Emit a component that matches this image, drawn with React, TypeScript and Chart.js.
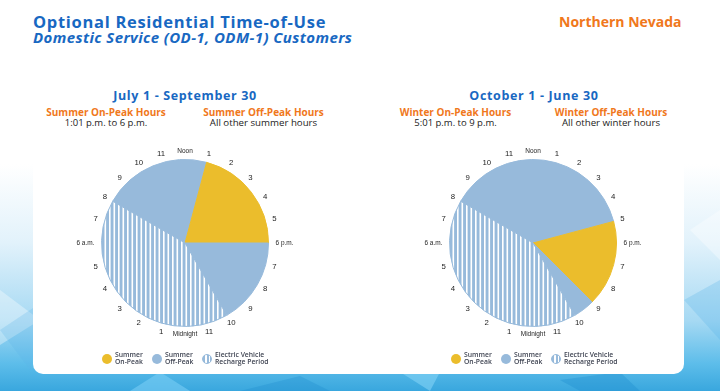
import React, { useEffect, useRef } from "react";
import { Chart, registerables } from "chart.js";

Chart.register(...registerables);

// ---- data ----
const HOUR_LABELS = ["Noon", "1", "2", "3", "4", "5", "6 p.m.", "7", "8", "9", "10", "11", "Midnight", "1", "2", "3", "4", "5", "6 a.m.", "7", "8", "9", "10", "11"];
const START_HOUR = 8; // first slice begins at 8 a.m.
const PERIOD_TYPES = ["off", "on", "off", "ev"];
const SUMMER_HOURS = [5, 5, 4, 10]; // 8a-1p off, 1p-6p on, 6p-10p off, 10p-8a EV
const WINTER_HOURS = [9, 4, 1, 10]; // 8a-5p off, 5p-9p on, 9p-10p off, 10p-8a EV
const LEGEND_LABELS = [["Summer", "On-Peak"], ["Summer", "Off-Peak"], ["Electric Vehicle", "Recharge Period"]];

const YELLOW = "#ebbd2c";
const BLUE = "#97badb";
const TITLE_BLUE = "#1868c2";
const ORANGE = "#f0781c";
const FONT = "'Open Sans', sans-serif";

function makePattern(): CanvasPattern | string {
  const c = document.createElement("canvas");
  c.width = 9;
  c.height = 10;
  const g = c.getContext("2d");
  if (!g) return BLUE;
  g.fillStyle = BLUE;
  g.fillRect(0, 0, 9, 10);
  g.fillStyle = "#ffffff";
  g.fillRect(0, 0, 1.6, 10);
  g.fillRect(4.5, 0, 1.6, 10);
  const p = g.createPattern(c, "repeat");
  return p || BLUE;
}

const clockLabels = {
  id: "clockLabels",
  afterDatasetsDraw(chart: any) {
    const arc = chart.getDatasetMeta(0).data[0];
    if (!arc) return;
    const { x, y, outerRadius } = arc.getProps(["x", "y", "outerRadius"], true);
    const ctx = chart.ctx;
    ctx.save();
    ctx.fillStyle = "#1e1e1e";
    HOUR_LABELS.forEach((lab, i) => {
      const ang = ((i * 15 - 90) * Math.PI) / 180;
      const word = lab.length > 2;
      ctx.font = word ? "6.5px 'Liberation Sans', Arial, sans-serif" : "7.8px 'Liberation Sans', Arial, sans-serif";
      ctx.textBaseline = "middle";
      let r = outerRadius + 9;
      ctx.textAlign = "center";
      if (lab === "6 p.m.") {
        ctx.textAlign = "left";
        r = outerRadius + 7;
      } else if (lab === "6 a.m.") {
        ctx.textAlign = "right";
        r = outerRadius + 7;
      } else if (word) {
        r = outerRadius + 8;
      }
      ctx.fillText(lab, x + r * Math.cos(ang), y + r * Math.sin(ang));
    });
    ctx.restore();
  },
};

function ClockPie({ hours, left, top }: { hours: number[]; left: number; top: number }) {
  const ref = useRef<HTMLCanvasElement | null>(null);
  useEffect(() => {
    if (!ref.current) return;
    const pattern = makePattern();
    const colors = PERIOD_TYPES.map((t) => (t === "on" ? YELLOW : t === "ev" ? pattern : BLUE));
    const borders = PERIOD_TYPES.map((t) => (t === "on" ? YELLOW : BLUE));
    const chart = new Chart(ref.current, {
      type: "pie",
      data: {
        labels: PERIOD_TYPES,
        datasets: [
          {
            data: hours,
            backgroundColor: colors as any,
            borderColor: borders,
            borderWidth: 1,
          },
        ],
      },
      options: {
        animation: false,
        responsive: false,
        rotation: (START_HOUR - 12) * 15,
        layout: { padding: { left: 46, right: 46, top: 31, bottom: 31 } },
        plugins: { legend: { display: false }, tooltip: { enabled: false } },
        events: [],
      },
      plugins: [clockLabels],
    });
    return () => chart.destroy();
  }, [hours]);
  return <canvas ref={ref} width={260} height={230} style={{ position: "absolute", left, top, width: 260, height: 230 }} />;
}

function T({ x, y, size, weight = 400, color = "#222", align = "left", italic = false, ls = 0, children }: any) {
  const style: React.CSSProperties = {
    position: "absolute",
    left: x,
    top: y - 0.531 * size,
    fontFamily: FONT,
    fontSize: size,
    lineHeight: `${size}px`,
    fontWeight: weight,
    fontStyle: italic ? "italic" : "normal",
    letterSpacing: ls,
    color,
    whiteSpace: "nowrap",
    transform: align === "center" ? "translateX(-50%)" : undefined,
  };
  return <div style={style}>{children}</div>;
}

function Legend({ x }: { x: number }) {
  const icons = [
    { background: YELLOW },
    { background: BLUE },
    { background: `repeating-linear-gradient(90deg, ${BLUE} 0px, ${BLUE} 2.4px, #fff 2.4px, #fff 3.6px)`, border: `1px solid ${BLUE}`, boxSizing: "border-box" as const },
  ];
  const offsets = [0, 50, 100];
  return (
    <>
      {LEGEND_LABELS.map((lines, i) => (
        <React.Fragment key={i}>
          <div style={{ position: "absolute", left: x + offsets[i] - 5, top: 354, width: 10, height: 10, borderRadius: "50%", ...icons[i] }} />
          <div style={{ position: "absolute", left: x + offsets[i] + 8, top: 351, fontFamily: FONT, fontSize: 6.8, lineHeight: "7px", fontWeight: 600, color: "#3f4452", whiteSpace: "nowrap" }}>
            {lines[0]}
            <br />
            {lines[1]}
          </div>
        </React.Fragment>
      ))}
    </>
  );
}

function Background() {
  return (
    <svg width={720} height={391} style={{ position: "absolute", left: 0, top: 0 }}>
      <defs>
        <linearGradient id="bg" x1="0" y1="0" x2="0" y2="1">
          <stop offset="0" stopColor="#ffffff" />
          <stop offset="0.42" stopColor="#ffffff" />
          <stop offset="0.62" stopColor="#e2f2fb" />
          <stop offset="0.82" stopColor="#a6d9f3" />
          <stop offset="0.93" stopColor="#5dbdea" />
          <stop offset="1" stopColor="#39a7de" />
        </linearGradient>
      </defs>
      <rect x={0} y={0} width={720} height={391} fill="url(#bg)" />
      <polygon points="0,290 40,320 0,345" fill="rgba(255,255,255,0.35)" />
      <polygon points="0,330 45,300 30,370" fill="rgba(90,180,230,0.25)" />
      <polygon points="690,230 720,260 720,210" fill="rgba(255,255,255,0.35)" />
      <polygon points="684,300 720,280 720,340" fill="rgba(80,175,230,0.25)" />
      <polygon points="130,391 160,372 190,391" fill="rgba(120,205,245,0.6)" />
      <polygon points="400,372 440,372 430,391" fill="rgba(130,210,245,0.6)" />
      <polygon points="560,380 620,372 640,391 580,391" fill="rgba(30,140,205,0.35)" />
      <polygon points="240,391 300,376 330,391" fill="rgba(30,140,205,0.3)" />
    </svg>
  );
}

export default function App() {
  return (
    <div style={{ position: "absolute", left: 0, top: 0, width: 720, height: 391, overflow: "hidden", background: "#fff" }}>
      <Background />
      <div style={{ position: "absolute", left: 33, top: -20, width: 651, height: 394, background: "#fff", borderRadius: 10 }} />
      <T x={33} y={22.3} size={16.5} weight={700} color={TITLE_BLUE} ls={0.7}>Optional Residential Time-of-Use</T>
      <T x={33} y={37.8} size={15} weight={700} italic color={TITLE_BLUE} ls={0.4}>Domestic Service (OD-1, ODM-1) Customers</T>
      <T x={559} y={22} size={14} weight={700} color={ORANGE}>Northern Nevada</T>

      <T x={185} y={96.3} size={12.5} weight={700} color={TITLE_BLUE} align="center" ls={0.65}>July 1 - September 30</T>
      <T x={106} y={112} size={10} weight={700} color={ORANGE} align="center">Summer On-Peak Hours</T>
      <T x={106} y={123.5} size={9.5} color="#222" align="center">1:01 p.m. to 6 p.m.</T>
      <T x={263.5} y={112} size={10} weight={700} color={ORANGE} align="center">Summer Off-Peak Hours</T>
      <T x={263.5} y={123.5} size={9.7} color="#222" align="center">All other summer hours</T>

      <T x={534} y={96.3} size={12.5} weight={700} color={TITLE_BLUE} align="center" ls={0.65}>October 1 - June 30</T>
      <T x={455.5} y={112} size={10} weight={700} color={ORANGE} align="center">Winter On-Peak Hours</T>
      <T x={455.5} y={123.5} size={9.5} color="#222" align="center">5:01 p.m. to 9 p.m.</T>
      <T x={611} y={112} size={10} weight={700} color={ORANGE} align="center">Winter Off-Peak Hours</T>
      <T x={611} y={123.5} size={9.7} color="#222" align="center">All other winter hours</T>

      <ClockPie hours={SUMMER_HOURS} left={55} top={128} />
      <ClockPie hours={WINTER_HOURS} left={403} top={128} />

      <Legend x={107} />
      <Legend x={456} />
    </div>
  );
}
